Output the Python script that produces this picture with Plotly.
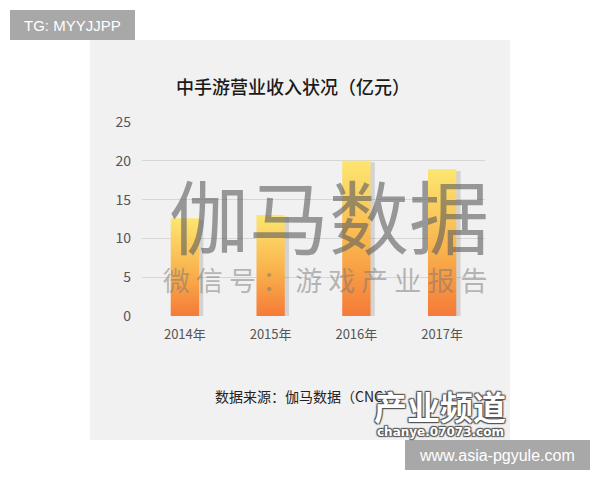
import plotly.graph_objects as go

years = ["2014年", "2015年", "2016年", "2017年"]
revenue = [12.6, 13.0, 20.0, 18.9]
y_ticks = [0, 5, 10, 15, 20, 25]

FONT = "Noto Sans CJK SC, Microsoft YaHei, sans-serif"

# plot area in pixels
L, R, T, B = 142, 485, 122, 316
W, H = 600, 480
pw, ph = R - L, B - T

def px_x(px):
    return (px - L) / pw

def px_y(py):
    return (B - py) / ph

fig = go.Figure()

bw = 0.33
for i, v in enumerate(revenue):
    # soft shadow on the right
    fig.add_trace(go.Scatter(
        x=[i - bw / 2 + 0.05, i + bw / 2 + 0.05, i + bw / 2 + 0.05, i - bw / 2 + 0.05, i - bw / 2 + 0.05],
        y=[0, 0, v - 0.2, v - 0.2, 0],
        mode="lines", line=dict(width=0), fill="toself",
        fillcolor="rgba(0,0,0,0.12)", hoverinfo="skip", showlegend=False))
    fig.add_trace(go.Scatter(
        x=[i - bw / 2, i + bw / 2, i + bw / 2, i - bw / 2, i - bw / 2],
        y=[0, 0, v, v, 0],
        mode="lines", line=dict(width=0), fill="toself",
        fillgradient=dict(type="vertical",
                          colorscale=[[0, "#f57a38"], [0.45, "#f9b24c"], [1, "#fde670"]]),
        name=years[i], showlegend=False))

OUTLINE = "1px 1px 1px #555, -1px -1px 1px #555, 1px -1px 1px #555, -1px 1px 1px #555"

def ann(text, x, y, **font):
    return dict(text=text, xref="paper", yref="paper", x=px_x(x), y=px_y(y),
                xanchor="center", yanchor="middle", showarrow=False, font=font)

fig.update_layout(
    width=W, height=H,
    margin=dict(l=L, r=W - R, t=T, b=H - B, pad=0),
    paper_bgcolor="white",
    plot_bgcolor="rgba(0,0,0,0)",
    font=dict(family=FONT, color="#555"),
    xaxis=dict(range=[-0.5, 3.5], tickvals=list(range(len(years))), ticktext=years,
               showgrid=False, zeroline=False, showline=False, ticks="",
               ticklabelstandoff=9,
               tickfont=dict(size=13, color="#555"), fixedrange=True),
    yaxis=dict(range=[0, 25], tickvals=y_ticks, showgrid=True, gridcolor="#d6d6d6",
               gridwidth=1, zeroline=False, showline=False, ticks="",
               ticklabelstandoff=10,
               tickfont=dict(size=14, color="#555"), fixedrange=True),
    shapes=[
        dict(type="rect", xref="paper", yref="paper", layer="below",
             x0=px_x(90), x1=px_x(510), y0=px_y(440), y1=px_y(40),
             fillcolor="#f1f1f1", line=dict(width=0)),
        dict(type="rect", xref="paper", yref="paper", layer="below",
             x0=px_x(10), x1=px_x(135), y0=px_y(40), y1=px_y(10),
             fillcolor="#a8a8a8", line=dict(width=0)),
        dict(type="rect", xref="paper", yref="paper", layer="below",
             x0=px_x(405), x1=px_x(590), y0=px_y(470), y1=px_y(440),
             fillcolor="#a8a8a8", line=dict(width=0)),
    ],
    annotations=[
        ann("中手游营业收入状况（亿元）", 293, 86, size=18, color="#1a1a1a", family=FONT, weight=500),
        ann("数据来源：伽马数据（CNG）", 306, 396, size=14, color="#222", family=FONT),
        ann("伽马数据", 329, 213, size=80, color="rgba(95,95,95,0.62)", family=FONT),
        ann("微 信 号 ： 游 戏 产 业 报 告", 325, 279, size=27, color="rgba(120,120,120,0.5)", family=FONT),
        ann("产业频道", 440, 406, size=33, color="white", family=FONT, weight="bold", shadow=OUTLINE),
        ann("chanye.07073.com", 440, 432, size=12, color="white", family="DejaVu Sans", weight="bold", shadow=OUTLINE),
        ann("TG: MYYJJPP", 72, 25, size=15, color="white", family="Liberation Sans"),
        ann("www.asia-pgyule.com", 497, 455, size=16, color="white", family="Liberation Sans"),
    ],
)

fig.write_html("out.html", config={"displayModeBar": False},
               post_script="document.body.style.margin='0';document.body.style.padding='0';")
